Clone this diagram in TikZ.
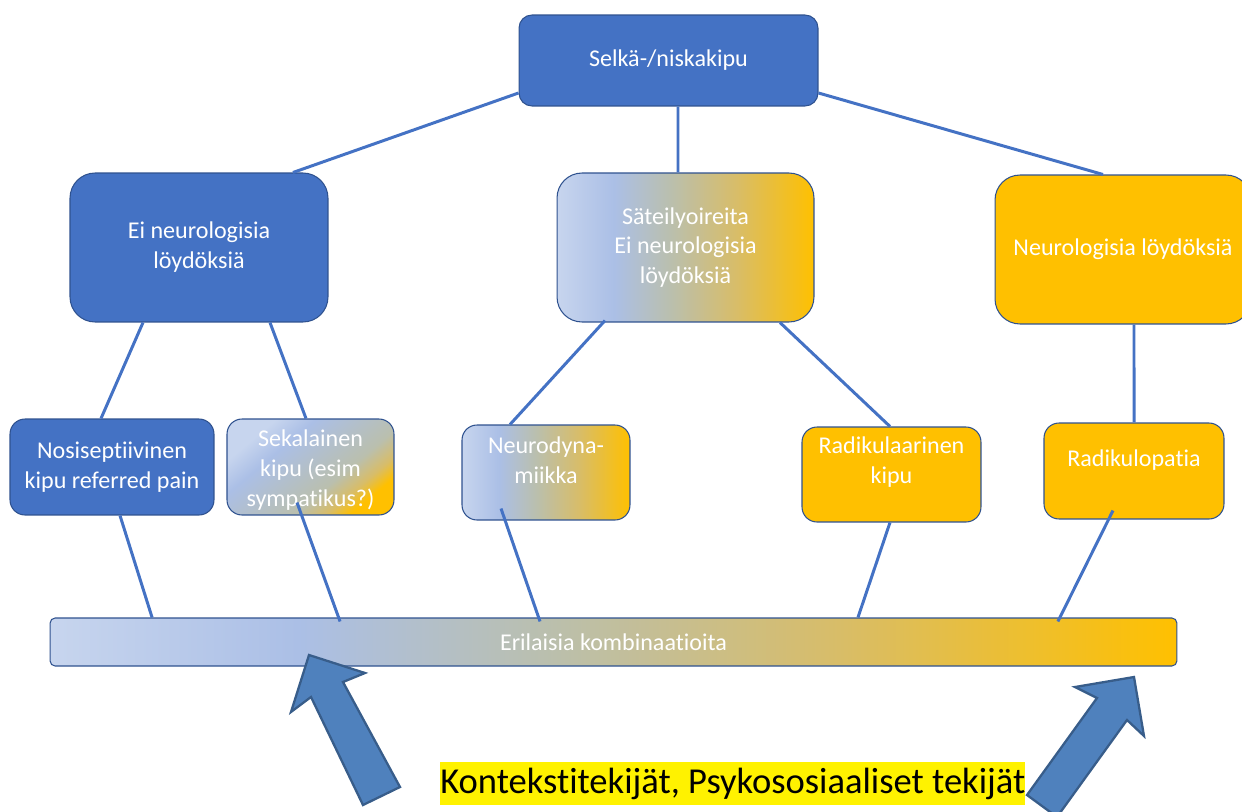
\documentclass[tikz,border=0pt]{standalone}
\usepackage{fontspec}
\setmainfont{Carlito}[Ligatures={NoCommon}]
\usepackage{xcolor}
\usepackage{tikz}
\usetikzlibrary{shapes, arrows, positioning, calc}

\definecolor{boxblue}{HTML}{4472C4}
\definecolor{boxline}{HTML}{2F528F}
\definecolor{boxorange}{HTML}{FFC000}
\definecolor{arrowblue}{HTML}{4F81BD}
\definecolor{arrowline}{HTML}{385D8A}
\definecolor{mixA}{HTML}{C7D5EE}
\definecolor{mixB}{HTML}{ABBFE6}
\definecolor{mixC}{HTML}{BABFAE}
\definecolor{mixD}{HTML}{D8BD68}

\pgfdeclarehorizontalshading{mixgrad}{100bp}{color(0bp)=(mixA); color(25bp)=(mixA); color(36bp)=(mixB); color(47bp)=(mixC); color(60bp)=(mixD); color(75bp)=(boxorange); color(100bp)=(boxorange)}
\pgfdeclarehorizontalshading{sekgrad}{100bp}{color(0bp)=(mixA); color(27bp)=(mixA); color(37bp)=(mixB); color(60bp)=(mixC); color(68bp)=(mixD); color(74bp)=(boxorange); color(100bp)=(boxorange)}

\newcommand{\toplines}[3]{\parbox[c][#1][t]{3.2cm}{\centering\vspace*{#2}#3}}

\tikzset{
  box/.style={draw=boxline, line width=0.6pt, text=white, align=center, inner sep=0pt,
    font=\fontsize{13.7}{17}\selectfont},
  bluebox/.style={box, fill=boxblue},
  orangebox/.style={box, fill=boxorange},
  mixbox/.style={box, shade, shading=mixgrad},
  link/.style={draw=boxblue, line width=1.7pt},
  bigarrow/.style={fill=arrowblue, draw=arrowline, line width=1.3pt, line join=miter}
}

\begin{document}
\begin{tikzpicture}[x=0.02cm, y=-0.02cm]
  \useasboundingbox (0,0) rectangle (1242,812);

  \node[bluebox, rounded corners=0.26cm, minimum width=5.98cm, minimum height=1.82cm] (top) at (668.5,60.5) {Selkä-/niskakipu};

  \node[bluebox, rounded corners=0.5cm, minimum width=5.16cm, minimum height=2.98cm] (ei) at (199,247.5) {Ei neurologisia\\löydöksiä};
  \node[mixbox, rounded corners=0.5cm, minimum width=5.14cm, minimum height=2.98cm] (sat) at (685.5,247.5) {Säteilyoireita\\Ei neurologisia\\löydöksiä};
  \node[orangebox, rounded corners=0.5cm, minimum width=5.12cm, minimum height=2.98cm] (neu) at (1123,249.5) {Neurologisia löydöksiä};

  \node[bluebox, rounded corners=0.3cm, minimum width=4.08cm, minimum height=1.92cm] (nosi) at (112,467) {Nosiseptiivinen\\kipu referred pain};
  \node[box, shade, shading=sekgrad, shading angle=-50, rounded corners=0.3cm, minimum width=3.34cm, minimum height=1.92cm] (sek) at (310.5,467) {\toplines{1.92cm}{0.22cm}{Sekalainen\\kipu (esim\\sympatikus?)}};
  \node[mixbox, rounded corners=0.3cm, minimum width=3.36cm, minimum height=1.9cm] (ndy) at (546,472.5) {\toplines{1.9cm}{0.24cm}{Neurodyna-\\miikka}};
  \node[orangebox, rounded corners=0.3cm, minimum width=3.58cm, minimum height=1.9cm] (rad) at (891.5,474.5) {\toplines{1.9cm}{0.2cm}{Radikulaarinen\\kipu}};
  \node[orangebox, rounded corners=0.3cm, minimum width=3.6cm, minimum height=1.92cm] (radp) at (1134,471) {\toplines{1.92cm}{0.54cm}{Radikulopatia}};

  \node[mixbox, rounded corners=0.1cm, minimum width=22.54cm, minimum height=0.96cm] (bar) at (613.5,642) {Erilaisia kombinaatioita};

  \draw[link] ([yshift=-0.65cm]top.west) -- ([xshift=1.88cm]ei.north);
  \draw[link] ([xshift=0.19cm]top.south) -- ([xshift=-0.15cm]sat.north);
  \draw[link] ([yshift=-0.65cm]top.east) -- ([xshift=-0.4cm]neu.north);

  \draw[link] ([xshift=-1.12cm]ei.south) -- ([xshift=-0.22cm]nosi.north);
  \draw[link] ([xshift=1.42cm]ei.south) -- ([xshift=-0.09cm]sek.north);
  \draw[link] ([xshift=-1.61cm, yshift=0.04cm]sat.south) -- ([xshift=-0.72cm]ndy.north);
  \draw[link] ([xshift=1.89cm]sat.south) -- ([xshift=-0.03cm]rad.north);
  \draw[link] ([xshift=0.22cm]neu.south) -- (radp.north);

  \draw[link] ([xshift=0.16cm]nosi.south) -- ([xshift=-9.23cm]bar.north);
  \draw[link] ([xshift=-0.27cm, yshift=0.26cm]sek.south) -- ([xshift=-5.47cm, yshift=-0.08cm]bar.north);
  \draw[link] ([xshift=-0.9cm, yshift=0.24cm]ndy.south) -- ([xshift=-1.47cm, yshift=-0.08cm]bar.north);
  \draw[link] ([xshift=-0.03cm]rad.south) -- ([xshift=4.89cm]bar.north);
  \draw[link] ([xshift=-0.42cm, yshift=0.18cm]radp.south) -- ([xshift=8.89cm, yshift=-0.08cm]bar.north);

  \node[fill=yellow, text=black, inner sep=0pt, anchor=west, minimum height=0.86cm,
    font=\fontsize{20.8}{24}\selectfont] (ctx) at (440,783.5) {Kontekstitekijät, Psykososiaaliset tekijät};

  \draw[bigarrow] (309,655) -- (365,673) -- (343,682) -- (400,787) -- (363,805) -- (311,697) -- (291,712) -- cycle;
  \draw[bigarrow] (1134,677) -- (1144,736) -- (1127,720) -- (1057,817) -- (1027,795) -- (1097,698) -- (1075,687) -- cycle;
\end{tikzpicture}
\end{document}
